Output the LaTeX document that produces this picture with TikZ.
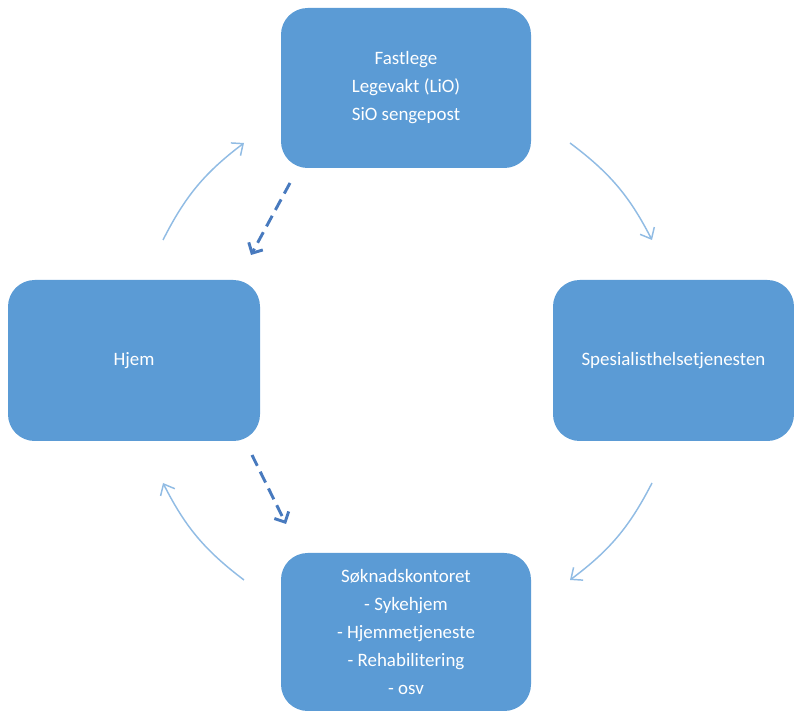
\documentclass[tikz,border=0pt]{standalone}
\usepackage{fontspec}
\setmainfont{Carlito}
\usetikzlibrary{arrows.meta}
\definecolor{boxblue}{HTML}{5B9BD5}
\definecolor{lineblue}{RGB}{145,188,228}
\definecolor{dashblue}{RGB}{72,122,190}

\begin{document}
\begin{tikzpicture}[x=0.75pt,y=0.75pt,
        stage/.style={draw=none,fill=boxblue,rounded corners=20pt,text=white,align=center,
            font=\fontsize{14.2}{21}\selectfont,inner sep=0pt},
        cycle/.style={draw=lineblue,line width=1.1pt,-{Straight Barb[length=7pt,width=12pt]},bend left=13},
        back/.style={draw=dashblue,line width=2.2pt,dash pattern=on 9pt off 5pt,-{Straight Barb[length=6pt,width=12pt]}}]
            \useasboundingbox (0,0) rectangle (794,711);
            \node[stage,minimum width=187.5pt,minimum height=120pt] (lege) at (406,623) {Fastlege\\Legevakt (LiO)\\SiO sengepost};
            \node[stage,minimum width=189pt,minimum height=120.75pt] (hjem) at (134,350.5) {Hjem};
            \node[stage,minimum width=180.75pt,minimum height=120.75pt] (spes) at (673.5,350.5) {Spesialisthelsetjenesten};
            \node[stage,minimum width=187.5pt,minimum height=118.5pt] (sok) at (406,79) {S\o knadskontoret\\- Sykehjem\\- Hjemmetjeneste\\- Rehabilitering\\- osv};
            \coordinate (a1) at (163,471); \coordinate (a2) at (244,568);
            \coordinate (b1) at (570,568); \coordinate (b2) at (652,471);
            \coordinate (c1) at (652,228); \coordinate (c2) at (570,131);
            \coordinate (d1) at (244,131); \coordinate (d2) at (163,228);
            \coordinate (e1) at (290,528); \coordinate (e2) at (251,456);
            \coordinate (f1) at (252,256); \coordinate (f2) at (286,187);
            \draw[cycle] (a1) to (a2);
            \draw[cycle] (b1) to (b2);
            \draw[cycle] (c1) to (c2);
            \draw[cycle] (d1) to (d2);
            \draw[back] (e1) -- (e2);
            \draw[back] (f1) -- (f2);
        \end{tikzpicture}
\end{document}
